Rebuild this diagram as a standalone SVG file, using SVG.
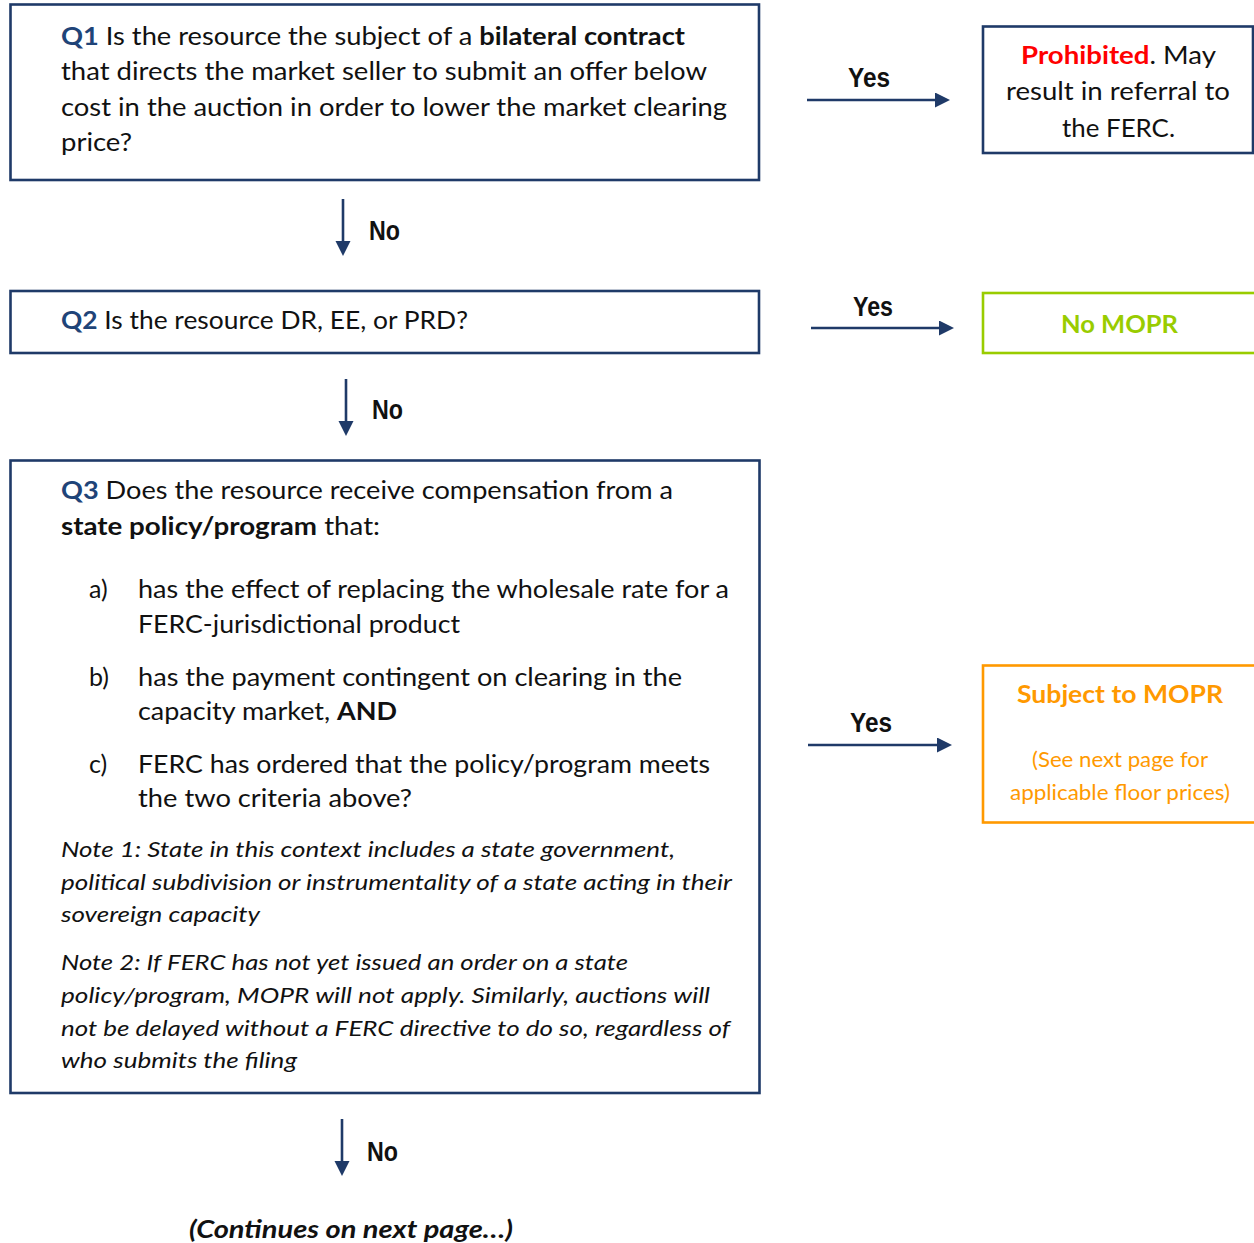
<svg xmlns="http://www.w3.org/2000/svg" width="1254" height="1243" viewBox="0 0 1254 1243">
<style>
.box{fill:#fff;stroke:#1f3a68;stroke-width:2.6}
.t{font-family:Lato,"Open Sans","Liberation Sans",sans-serif;font-size:25px;fill:#111}
.n{font-family:Lato,"Open Sans","Liberation Sans",sans-serif;font-size:21.5px;font-style:italic;fill:#111}
.b{font-weight:bold}
.q{font-weight:bold;fill:#1f4478}
.lbl{font-family:"Liberation Sans",Arial,sans-serif;font-size:27px;font-weight:bold;fill:#111}
.con{stroke:#1f3a68;stroke-width:2.6;fill:none}
</style>
<defs>
<marker id="ah" markerUnits="userSpaceOnUse" markerWidth="16" markerHeight="16" refX="5" refY="7.5" orient="auto">
<path d="M0,0 L15,7.5 L0,15 z" fill="#1f3a68"/>
</marker>
</defs>

<g id="q1">
<rect class="box" x="10.5" y="4.5" width="748.5" height="175.5"/>
<text class="t" x="61" y="45" textLength="624" lengthAdjust="spacingAndGlyphs"><tspan class="q">Q1</tspan> Is the resource the subject of a <tspan class="b">bilateral contract</tspan></text>
<text class="t" x="61" y="80" textLength="646" lengthAdjust="spacingAndGlyphs">that directs the market seller to submit an offer below</text>
<text class="t" x="61" y="116" textLength="666" lengthAdjust="spacingAndGlyphs">cost in the auction in order to lower the market clearing</text>
<text class="t" x="61" y="151" textLength="71" lengthAdjust="spacingAndGlyphs">price?</text>
</g>

<g id="prohibited">
<rect class="box" x="983" y="26.5" width="270" height="126.5"/>
<text class="t" x="1021" y="64" textLength="195" lengthAdjust="spacingAndGlyphs"><tspan class="b" fill="#ff0000">Prohibited</tspan>. May</text>
<text class="t" x="1006" y="100" textLength="224" lengthAdjust="spacingAndGlyphs">result in referral to</text>
<text class="t" x="1062" y="137" textLength="113" lengthAdjust="spacingAndGlyphs">the FERC.</text>
</g>

<g id="q2">
<rect class="box" x="10.5" y="291" width="748.5" height="62"/>
<text class="t" x="61" y="329" textLength="407" lengthAdjust="spacingAndGlyphs"><tspan class="q">Q2</tspan> Is the resource DR, EE, or PRD?</text>
</g>

<g id="nomopr">
<rect x="983" y="293" width="275" height="60" fill="#fff" stroke="#99cc00" stroke-width="2.6"/>
<text class="t b" x="1061" y="333" textLength="117" lengthAdjust="spacingAndGlyphs" style="fill:#99cc00">No MOPR</text>
</g>

<g id="q3">
<rect class="box" x="10.5" y="460.5" width="749" height="632.5"/>
<text class="t" x="61" y="499" textLength="612" lengthAdjust="spacingAndGlyphs"><tspan class="q">Q3</tspan> Does the resource receive compensation from a</text>
<text class="t" x="61" y="535" textLength="319" lengthAdjust="spacingAndGlyphs"><tspan class="b">state policy/program</tspan> that:</text>
<text class="t" x="89" y="598">a)</text>
<text class="t" x="138" y="598" textLength="591" lengthAdjust="spacingAndGlyphs">has the effect of replacing the wholesale rate for a</text>
<text class="t" x="138" y="633" textLength="322" lengthAdjust="spacingAndGlyphs">FERC-jurisdictional product</text>
<text class="t" x="89" y="686">b)</text>
<text class="t" x="138" y="686" textLength="544" lengthAdjust="spacingAndGlyphs">has the payment contingent on clearing in the</text>
<text class="t" x="138" y="720" textLength="259" lengthAdjust="spacingAndGlyphs">capacity market, <tspan class="b">AND</tspan></text>
<text class="t" x="89" y="773">c)</text>
<text class="t" x="138" y="773" textLength="572" lengthAdjust="spacingAndGlyphs">FERC has ordered that the policy/program meets</text>
<text class="t" x="138" y="807" textLength="274" lengthAdjust="spacingAndGlyphs">the two criteria above?</text>
<text class="n" x="61" y="857" textLength="614" lengthAdjust="spacingAndGlyphs">Note 1: State in this context includes a state government,</text>
<text class="n" x="61" y="890" textLength="671" lengthAdjust="spacingAndGlyphs">political subdivision or instrumentality of a state acting in their</text>
<text class="n" x="61" y="922" textLength="199" lengthAdjust="spacingAndGlyphs">sovereign capacity</text>
<text class="n" x="61" y="970" textLength="567" lengthAdjust="spacingAndGlyphs">Note 2: If FERC has not yet issued an order on a state</text>
<text class="n" x="61" y="1003" textLength="649" lengthAdjust="spacingAndGlyphs">policy/program, MOPR will not apply. Similarly, auctions will</text>
<text class="n" x="61" y="1036" textLength="669" lengthAdjust="spacingAndGlyphs">not be delayed without a FERC directive to do so, regardless of</text>
<text class="n" x="61" y="1068" textLength="236" lengthAdjust="spacingAndGlyphs">who submits the filing</text>
</g>

<g id="subject">
<rect x="983" y="665.5" width="275" height="157" fill="#fff" stroke="#ff9900" stroke-width="2.6"/>
<text class="t b" x="1017" y="703" style="fill:#ff9900" textLength="206" lengthAdjust="spacingAndGlyphs">Subject to MOPR</text>
<text class="t" x="1032" y="767" style="fill:#ff9900;font-size:22px" textLength="176" lengthAdjust="spacingAndGlyphs">(See next page for</text>
<text class="t" x="1010" y="800" style="fill:#ff9900;font-size:22px" textLength="220" lengthAdjust="spacingAndGlyphs">applicable floor prices)</text>
</g>

<g id="connectors">
<line class="con" x1="807" y1="100" x2="940" y2="100" marker-end="url(#ah)"/>
<text class="lbl" x="848" y="87" textLength="42" lengthAdjust="spacingAndGlyphs">Yes</text>
<line class="con" x1="343" y1="199" x2="343" y2="246" marker-end="url(#ah)"/>
<text class="lbl" x="369" y="240" textLength="31" lengthAdjust="spacingAndGlyphs">No</text>
<line class="con" x1="811" y1="328" x2="944" y2="328" marker-end="url(#ah)"/>
<text class="lbl" x="853" y="316" textLength="40" lengthAdjust="spacingAndGlyphs">Yes</text>
<line class="con" x1="346" y1="379" x2="346" y2="426" marker-end="url(#ah)"/>
<text class="lbl" x="372" y="419" textLength="31" lengthAdjust="spacingAndGlyphs">No</text>
<line class="con" x1="808" y1="745" x2="942" y2="745" marker-end="url(#ah)"/>
<text class="lbl" x="850" y="732" textLength="42" lengthAdjust="spacingAndGlyphs">Yes</text>
<line class="con" x1="342" y1="1119" x2="342" y2="1166" marker-end="url(#ah)"/>
<text class="lbl" x="367" y="1161" textLength="31" lengthAdjust="spacingAndGlyphs">No</text>
</g>

<text class="t b" x="189" y="1238" style="font-style:italic" textLength="324" lengthAdjust="spacingAndGlyphs">(Continues on next page…)</text>
</svg>
